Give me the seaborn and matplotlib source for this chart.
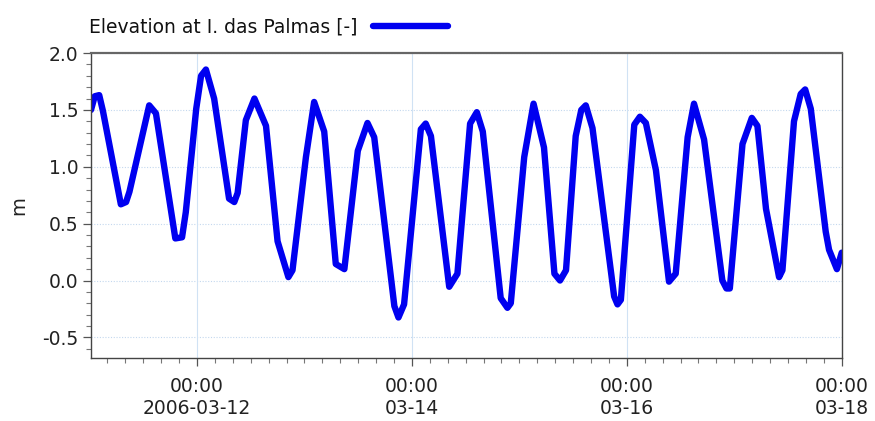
import matplotlib
matplotlib.use('Agg')
import matplotlib.pyplot as plt
import matplotlib.dates as mdates
import seaborn as sns
import pandas as pd

# tide readings (time, elevation in m)
times = [
    '03-11 00:20', '03-11 01:10', '03-11 02:10', '03-11 03:00', '03-11 07:00',
    '03-11 08:10', '03-11 08:55', '03-11 13:20', '03-11 14:50', '03-11 19:10',
    '03-11 20:40', '03-11 21:30', '03-11 23:50', '03-12 00:55', '03-12 02:00',
    '03-12 03:50', '03-12 07:10', '03-12 08:20', '03-12 09:05', '03-12 10:55',
    '03-12 12:50', '03-12 15:25', '03-12 18:00', '03-12 20:25', '03-12 21:20',
    '03-13 00:20', '03-13 02:10', '03-13 04:25', '03-13 07:00', '03-13 08:55',
    '03-13 11:55', '03-13 14:05', '03-13 15:35', '03-13 20:05', '03-13 21:00',
    '03-13 22:15', '03-14 02:00', '03-14 03:05', '03-14 04:15', '03-14 08:20',
    '03-14 10:10', '03-14 13:00', '03-14 14:30', '03-14 15:50', '03-14 19:50',
    '03-14 21:20', '03-14 22:05', '03-15 01:05', '03-15 03:10', '03-15 05:30',
    '03-15 07:50', '03-15 09:05', '03-15 10:25', '03-15 12:35', '03-15 13:50',
    '03-15 14:50', '03-15 16:20', '03-15 21:10', '03-15 21:55', '03-15 22:40',
    '03-16 01:40', '03-16 02:55', '03-16 04:15', '03-16 06:30', '03-16 09:25',
    '03-16 10:55', '03-16 13:35', '03-16 15:00', '03-16 17:15', '03-16 21:20',
    '03-16 22:15', '03-16 23:00', '03-17 01:50', '03-17 03:55', '03-17 05:10',
    '03-17 07:05', '03-17 10:00', '03-17 10:45', '03-17 13:20', '03-17 14:50',
    '03-17 15:50', '03-17 17:05', '03-17 20:25', '03-17 21:10', '03-17 22:55',
    '03-18 00:00',
]
elevation = [
    1.50, 1.62, 1.63, 1.49, 0.67,
    0.69, 0.78, 1.54, 1.47, 0.37,
    0.38, 0.60, 1.51, 1.80, 1.855,
    1.60, 0.72, 0.69, 0.77, 1.41,
    1.60, 1.36, 0.345, 0.03, 0.09,
    1.085, 1.57, 1.31, 0.145, 0.10,
    1.14, 1.385, 1.26, -0.225, -0.325,
    -0.21, 1.33, 1.38, 1.27, -0.055,
    0.06, 1.38, 1.48, 1.31, -0.155,
    -0.24, -0.20, 1.085, 1.555, 1.17,
    0.06, 0.00, 0.09, 1.27, 1.50,
    1.54, 1.34, -0.14, -0.21, -0.17,
    1.37, 1.44, 1.385, 0.97, -0.01,
    0.06, 1.26, 1.555, 1.24, 0.00,
    -0.07, -0.07, 1.20, 1.43, 1.36,
    0.63, 0.03, 0.09, 1.40, 1.64,
    1.68, 1.51, 0.43, 0.27, 0.10,
    0.245,
]

series_name = 'Elevation at I. das Palmas [-]'
tick_dates = ['2006-03-12', '2006-03-14', '2006-03-16', '2006-03-18']
tick_labels = ['00:00\n2006-03-12', '00:00\n03-14', '00:00\n03-16', '00:00\n03-18']
y_ticks = [-0.5, 0.0, 0.5, 1.0, 1.5, 2.0]

df = pd.DataFrame({
    'time': pd.to_datetime(['2006-' + t for t in times]),
    'elevation': elevation,
    'series': series_name,
})

sns.set_style('white')
plt.rcParams['font.family'] = ['DejaVu Sans']

fig = plt.figure(figsize=(8.75, 4.21), dpi=100)
ax = fig.add_axes([0.104, 0.150, 0.858, 0.724])

sns.lineplot(data=df, x='time', y='elevation', hue='series', palette=['#0000f0'],
             linewidth=4.6, ax=ax, legend=True)

ax.set_xlim(pd.Timestamp('2006-03-11 00:20'), pd.Timestamp('2006-03-18 00:00'))
ax.set_ylim(-0.68, 2.0)

ax.set_xticks(pd.to_datetime(tick_dates))
ax.set_xticklabels(tick_labels)
ax.xaxis.set_minor_locator(mdates.HourLocator(byhour=range(0, 24, 4)))
ax.set_yticks(y_ticks)
ax.set_yticklabels([f'{v:.1f}' for v in y_ticks])
ax.yaxis.set_minor_locator(matplotlib.ticker.MultipleLocator(0.1))

ax.tick_params(axis='both', which='both', bottom=True, left=True)
ax.tick_params(axis='both', which='major', direction='out', length=6, width=0.9,
               color='#555555', labelsize=13.5, labelcolor='#222222', pad=3)
ax.tick_params(axis='both', which='minor', direction='out', length=3.5, width=0.8,
               color='#777777')
ax.tick_params(axis='x', which='major', pad=8)

ax.grid(False)
for v in y_ticks:
    ax.axhline(v, color='#c4d8ee', lw=0.8, ls=(0, (1, 1.5)), zorder=0)
for d in pd.to_datetime(tick_dates):
    ax.axvline(d, color='#d0e2f4', lw=0.8, zorder=0)

for side in ['left', 'right', 'bottom']:
    ax.spines[side].set_color('#444444')
    ax.spines[side].set_linewidth(1.0)
ax.spines['top'].set_color('#666666')
ax.spines['top'].set_linewidth(1.6)

ax.set_xlabel('')
ax.set_ylabel('m', fontsize=14, color='#222222', labelpad=10)

ax.legend(loc='lower left', bbox_to_anchor=(-0.012, 1.03), frameon=False,
          markerfirst=False, fontsize=13.5, handlelength=4.0, borderaxespad=0,
          handletextpad=0.8, labelcolor='#111111')

fig.savefig('out.png', dpi=100)
